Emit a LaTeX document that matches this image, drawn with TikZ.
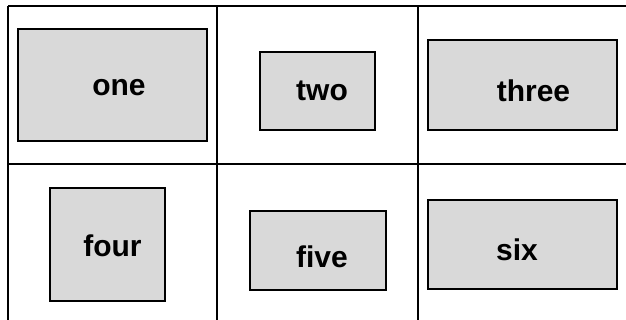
\documentclass[tikz,border=0pt]{standalone}
\usepackage{fontspec}
\setmainfont{Liberation Sans}
\definecolor{boxgray}{RGB}{217,217,217}

\begin{document}
\begin{tikzpicture}[
    x=1pt, y=-1pt,
    gridline/.style={line width=1.6pt, black},
    cellbox/.style={draw, line width=1.3pt, fill=boxgray, inner sep=0pt},
    every label/.style={font=\fontsize{30}{36}\selectfont\bfseries, inner sep=0pt}
]
    \useasboundingbox (0,0) rectangle (626,320);
    % Grid
    \coordinate (tl) at (8,6);
    \coordinate (tr) at (626,6);
    \coordinate (ml) at (8,164);
    \coordinate (mr) at (626,164);
    \coordinate (bl) at (8,320);
    \coordinate (c1t) at (217,6);
    \coordinate (c1b) at (217,320);
    \coordinate (c2t) at (418,6);
    \coordinate (c2b) at (418,320);
    \draw[gridline] (tl) -- (tr);
    \draw[gridline] (ml) -- (mr);
    \draw[gridline] (tl) -- (bl);
    \draw[gridline] (c1t) -- (c1b);
    \draw[gridline] (c2t) -- (c2b);
    % Top row
    \node[cellbox, minimum width=189pt, minimum height=112pt,
          label={[xshift=6.5pt, yshift=-3pt]center:one}] (one) at (112.5,85) {};
    \node[cellbox, minimum width=115pt, minimum height=78pt,
          label={[xshift=4.5pt]center:two}] (two) at (317.5,91) {};
    \node[cellbox, minimum width=189pt, minimum height=90pt,
          label={[xshift=11pt, yshift=-6pt]center:three}] (three) at (522.5,85) {};
    % Bottom row
    \node[cellbox, minimum width=115pt, minimum height=113pt,
          label={[xshift=5pt, yshift=-1.5pt]center:four}] (four) at (107.5,244.5) {};
    \node[cellbox, minimum width=136pt, minimum height=79pt,
          label={[xshift=4pt, yshift=-6.5pt]center:five}] (five) at (318,250.5) {};
    \node[cellbox, minimum width=189pt, minimum height=89pt,
          label={[xshift=-5.5pt, yshift=-5.5pt]center:six}] (six) at (522.5,244.5) {};
\end{tikzpicture}
\end{document}
